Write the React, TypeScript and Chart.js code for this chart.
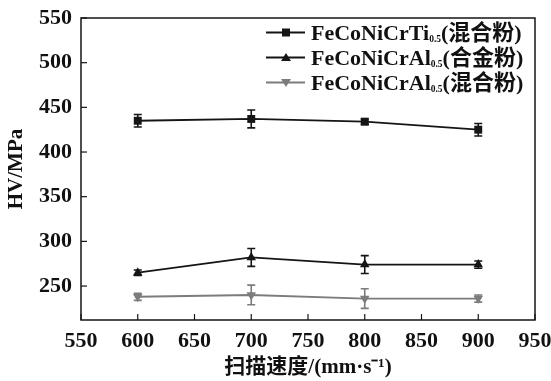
import React, { useEffect, useRef } from 'react';
import { Chart, registerables } from 'chart.js';

Chart.register(...registerables);

const speeds = [600, 700, 800, 900];
const tiMix = [435, 437, 434, 425];
const tiMixErr = [7, 10, 3, 7];
const alAlloy = [265, 282, 274, 274];
const alAlloyErr = [3, 10, 10, 4];
const alMix = [238, 240, 236, 236];
const alMixErr = [4, 11, 11, 4];

const xTicks = [550, 600, 650, 700, 750, 800, 850, 900, 950];
const yTicks = [250, 300, 350, 400, 450, 500, 550];

const seriesNames = ['FeCoNiCrTi0.5(混合粉)', 'FeCoNiCrAl0.5(合金粉)', 'FeCoNiCrAl0.5(混合粉)'];
const xTitle = '扫描速度/(mm·s⁻¹)';
const yTitle = 'HV/MPa';

const FONT = '"Liberation Serif", "Noto Sans CJK SC", serif';
const INK = '#151515';
const GRAY = '#7c7c7c';

const decorPlugin = {
  id: 'decor',
  beforeDatasetsDraw(chart: any) {
    const ctx = chart.ctx;
    const ys = chart.scales.y;
    chart.data.datasets.forEach((ds: any, i: number) => {
      const meta = chart.getDatasetMeta(i);
      ctx.save();
      ctx.strokeStyle = ds.borderColor;
      ctx.lineWidth = 1.6;
      meta.data.forEach((pt: any, j: number) => {
        const v = ds.data[j].y;
        const e = ds.errors[j];
        const yt = ys.getPixelForValue(v + e);
        const yb = ys.getPixelForValue(v - e);
        ctx.beginPath();
        ctx.moveTo(pt.x, yt);
        ctx.lineTo(pt.x, yb);
        ctx.moveTo(pt.x - 4, yt);
        ctx.lineTo(pt.x + 4, yt);
        ctx.moveTo(pt.x - 4, yb);
        ctx.lineTo(pt.x + 4, yb);
        ctx.stroke();
      });
      ctx.restore();
    });
  },
  afterDraw(chart: any) {
    const ctx = chart.ctx;
    const { left, right, top, bottom } = chart.chartArea;
    ctx.save();
    ctx.strokeStyle = INK;
    ctx.lineWidth = 1.5;
    ctx.strokeRect(left, top, right - left, bottom - top);
    ctx.lineWidth = 1.2;
    chart.scales.x.ticks.forEach((t: any) => {
      const x = chart.scales.x.getPixelForValue(t.value);
      ctx.beginPath();
      ctx.moveTo(x, bottom);
      ctx.lineTo(x, bottom - 6);
      ctx.stroke();
    });
    chart.scales.y.ticks.forEach((t: any) => {
      const y = chart.scales.y.getPixelForValue(t.value);
      ctx.beginPath();
      ctx.moveTo(left, y);
      ctx.lineTo(left + 6, y);
      ctx.stroke();
    });
    const baseY = [40, 65, 90];
    chart.data.datasets.forEach((ds: any, i: number) => {
      const by = baseY[i];
      const ly = by - 7.5;
      ctx.strokeStyle = ds.borderColor;
      ctx.fillStyle = ds.borderColor;
      ctx.lineWidth = 1.8;
      ctx.beginPath();
      ctx.moveTo(266, ly);
      ctx.lineTo(305, ly);
      ctx.stroke();
      ctx.beginPath();
      if (ds.pointStyle === 'rect') {
        ctx.rect(282, ly - 4, 8, 8);
      } else if (ds.pointRotation === 180) {
        ctx.moveTo(281, ly - 3.5);
        ctx.lineTo(291, ly - 3.5);
        ctx.lineTo(286, ly + 4.5);
        ctx.closePath();
      } else {
        ctx.moveTo(281, ly + 3.5);
        ctx.lineTo(291, ly + 3.5);
        ctx.lineTo(286, ly - 4.5);
        ctx.closePath();
      }
      ctx.fill();
      const [base, tail] = ds.label.split('0.5');
      let x = 311;
      ctx.fillStyle = '#111';
      ctx.textBaseline = 'alphabetic';
      ctx.textAlign = 'left';
      ctx.font = `bold 22px ${FONT}`;
      ctx.fillText(base, x, by);
      x += ctx.measureText(base).width;
      ctx.font = `bold 9.5px ${FONT}`;
      ctx.fillText('0.5', x, by + 2);
      x += ctx.measureText('0.5').width;
      ctx.font = `bold 22px ${FONT}`;
      ctx.fillText(tail, x, by);
    });
    ctx.restore();
  },
};

export default function App() {
  const ref = useRef<HTMLCanvasElement>(null);
  useEffect(() => {
    if (!ref.current) return;
    const mk = (ys: number[]) => speeds.map((x, i) => ({ x, y: ys[i] }));
    const chart = new Chart(ref.current, {
      type: 'line',
      data: {
        datasets: [
          {
            label: seriesNames[0],
            data: mk(tiMix),
            errors: tiMixErr,
            borderColor: INK,
            backgroundColor: INK,
            borderWidth: 1.8,
            pointStyle: 'rect',
            pointRadius: 5.6,
            pointBorderWidth: 0,
          } as any,
          {
            label: seriesNames[1],
            data: mk(alAlloy),
            errors: alAlloyErr,
            borderColor: INK,
            backgroundColor: INK,
            borderWidth: 1.8,
            pointStyle: 'triangle',
            pointRadius: 5.5,
            pointBorderWidth: 0,
          } as any,
          {
            label: seriesNames[2],
            data: mk(alMix),
            errors: alMixErr,
            borderColor: GRAY,
            backgroundColor: GRAY,
            borderWidth: 1.8,
            pointStyle: 'triangle',
            pointRotation: 180,
            pointRadius: 5.5,
            pointBorderWidth: 0,
          } as any,
        ],
      },
      options: {
        animation: false,
        responsive: false,
        devicePixelRatio: 1,
        layout: { padding: { left: 0, top: 18, right: 16, bottom: 0 } },
        plugins: { legend: { display: false }, tooltip: { enabled: false } },
        scales: {
          x: {
            type: 'linear',
            min: 550,
            max: 950,
            afterBuildTicks: (s: any) => { s.ticks = xTicks.map((v) => ({ value: v })); },
            afterFit: (s: any) => { s.height = 61; s.paddingLeft = 0; s.paddingRight = 0; },
            grid: { display: false, drawTicks: false },
            border: { display: false },
            ticks: { font: { family: FONT, size: 22, weight: 'bold' }, color: '#111', padding: 8, maxRotation: 0, autoSkip: false },
            title: { display: true, text: xTitle, font: { family: FONT, size: 21, weight: 'bold' }, color: '#111', padding: { top: 2, bottom: 1 } },
          },
          y: {
            type: 'linear',
            min: 212,
            max: 550,
            afterBuildTicks: (s: any) => { s.ticks = yTicks.map((v) => ({ value: v })); },
            afterFit: (s: any) => { s.width = 81; s.paddingTop = 0; s.paddingBottom = 0; },
            grid: { display: false, drawTicks: false },
            border: { display: false },
            ticks: { font: { family: FONT, size: 22, weight: 'bold' }, color: '#111', padding: 9, autoSkip: false },
            title: { display: true, text: yTitle, font: { family: FONT, size: 21, weight: 'bold' }, color: '#111', padding: { top: 4, bottom: 4 } },
          },
        },
      } as any,
      plugins: [decorPlugin],
    });
    return () => chart.destroy();
  }, []);
  return (
    <div style={{ position: 'fixed', left: 0, top: 0, width: 551, height: 381, background: '#fff' }}>
      <canvas ref={ref} width={551} height={381} style={{ width: 551, height: 381 }} />
    </div>
  );
}
